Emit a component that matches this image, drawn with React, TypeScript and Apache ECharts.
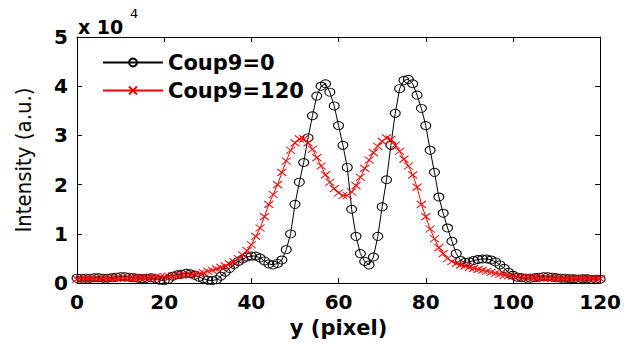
import React, { useEffect, useRef } from "react";
import * as echarts from "echarts";

const seriesNames = ["Coup9=0", "Coup9=120"];
const xTicks = [0, 20, 40, 60, 80, 100, 120];
const yTicks = [0, 10000, 20000, 30000, 40000, 50000];

// Intensity sampled at y = 0, 1, 2, ... 120 pixels
const coup0 = [
  1000, 1000, 1000, 1000, 1100, 1100, 1000, 1000, 1100, 1200,
  1300, 1300, 1200, 1100, 1000, 900, 1000, 1100, 900, 600,
  500, 800, 1400, 1700, 1800, 2000, 1900, 1600, 1200, 900,
  600, 500, 700, 1400, 2200, 3000, 3800, 4400, 4900, 5300,
  5500, 5500, 5100, 4500, 3900, 3700, 4000, 4700, 6800, 10000,
  16000, 20500, 24500, 29500, 34000, 38000, 40000, 40500, 38800, 36000,
  32000, 28000, 23500, 15000, 9500, 6000, 4400, 3700, 5300, 9500,
  15500, 21000, 28000, 34500, 39500, 41200, 41400, 40500, 38200, 35500,
  32000, 27000, 22500, 17500, 14200, 11200, 8500, 6000, 4600, 4200,
  4300, 4600, 4800, 4900, 4900, 4700, 4300, 3700, 3000, 2200,
  1600, 1200, 1100, 1000, 1000, 1100, 1200, 1300, 1300, 1200,
  1100, 1000, 1000, 900, 900, 800, 900, 900, 800, 800,
  800,
];

const coup120 = [
  800, 900, 900, 1000, 900, 900, 1000, 1000, 900, 1000,
  1000, 1000, 1000, 1000, 1100, 1100, 1100, 1100, 1200, 1200,
  1300, 1400, 1500, 1500, 1600, 1700, 1700, 1800, 1900, 2100,
  2400, 2600, 2900, 3200, 3500, 3900, 4300, 5000, 5700, 6600,
  7800, 9500, 11200, 13500, 16000, 18000, 20000, 22500, 24800, 27000,
  28500, 29300, 29300, 28500, 27200, 25500, 23800, 22000, 20500, 19200,
  18300, 17800, 17800, 18500, 19800, 21500, 23300, 25000, 26500, 27800,
  28800, 29500, 29200, 28000, 26800, 25200, 23800, 22000, 19500, 16000,
  13500, 11000, 9000, 7200, 6000, 5000, 4400, 4000, 3700, 3500,
  3200, 3000, 2800, 2600, 2400, 2200, 2000, 1800, 1600, 1500,
  1400, 1300, 1200, 1200, 1100, 1100, 1100, 1000, 1000, 1000,
  1000, 1000, 900, 900, 1000, 900, 900, 900, 900, 900,
  900,
];

const FONT = "'DejaVu Sans', 'Liberation Sans', Arial, sans-serif";

export default function App() {
  const ref = useRef<HTMLDivElement>(null);

  useEffect(() => {
    if (!ref.current) return;
    const chart = echarts.init(ref.current, null, { renderer: "svg" });
    const axisLine = { show: true, onZero: false, lineStyle: { color: "#000", width: 1 } };
    const tick = { show: true, inside: true, length: 5, lineStyle: { color: "#000", width: 1 } };
    const xMin = xTicks[0];
    const xMax = xTicks[xTicks.length - 1];
    const xInt = xTicks[1] - xTicks[0];
    const yMin = yTicks[0];
    const yMax = yTicks[yTicks.length - 1];
    const yInt = yTicks[1] - yTicks[0];
    chart.setOption({
      animation: false,
      backgroundColor: "#fff",
      grid: { left: 77, right: 22, top: 37, bottom: 55 },
      legend: {
        data: [
          { name: seriesNames[0] },
          { name: seriesNames[1] },
        ],
        orient: "vertical",
        left: 97,
        top: 47,
        itemWidth: 60,
        itemHeight: 10,
        itemGap: 7,
        textStyle: {
          fontFamily: FONT,
          fontSize: 21,
          fontWeight: "bold",
          color: "#000",
          lineHeight: 21,
        },
      },
      xAxis: [
        {
          type: "value",
          position: "bottom",
          min: xMin,
          max: xMax,
          interval: xInt,
          axisLine,
          axisTick: tick,
          splitLine: { show: false },
          axisLabel: {
            color: "#000",
            fontFamily: FONT,
            fontSize: 20,
            fontWeight: "bold",
            margin: 9,
          },
          name: "y (pixel)",
          nameLocation: "middle",
          nameGap: 28,
          nameTextStyle: {
            color: "#000",
            fontFamily: FONT,
            fontSize: 21,
            fontWeight: "bold",
          },
        },
        {
          type: "value",
          position: "top",
          min: xMin,
          max: xMax,
          interval: xInt,
          axisLine,
          axisTick: tick,
          splitLine: { show: false },
          axisLabel: { show: false },
        },
      ],
      yAxis: [
        {
          type: "value",
          position: "left",
          min: yMin,
          max: yMax,
          interval: yInt,
          axisLine,
          axisTick: tick,
          splitLine: { show: false },
          axisLabel: {
            color: "#000",
            fontFamily: FONT,
            fontSize: 20,
            fontWeight: "bold",
            margin: 9,
            formatter: (v: number) => String(v / 10000),
          },
          name: "Intensity (a.u.)",
          nameLocation: "middle",
          nameGap: 43,
          nameTextStyle: {
            color: "#000",
            fontFamily: "'DejaVu Sans Condensed', 'Liberation Sans Narrow', 'Liberation Sans', sans-serif",
            fontSize: 22,
          },
        },
        {
          type: "value",
          position: "right",
          min: yMin,
          max: yMax,
          interval: yInt,
          axisLine,
          axisTick: tick,
          splitLine: { show: false },
          axisLabel: { show: false },
        },
      ],
      graphic: [
        {
          type: "text",
          left: 78,
          top: 17,
          style: {
            text: "x 10",
            fill: "#000",
            font: "bold 19px " + FONT,
          },
        },
        {
          type: "text",
          left: 130,
          top: 7,
          style: {
            text: "4",
            fill: "#000",
            font: "13px " + FONT,
          },
        },
      ],
      series: [
        {
          name: seriesNames[0],
          type: "line",
          data: coup0.map((v, i) => [i, v]),
          symbol: "circle",
          symbolSize: [10, 8],
          showAllSymbol: true,
          lineStyle: { color: "#000", width: 1 },
          itemStyle: { color: "rgba(0,0,0,0)", borderColor: "#000", borderWidth: 1 },
          z: 2,
        },
        {
          name: seriesNames[1],
          type: "line",
          data: coup120.map((v, i) => [i, v]),
          symbol: "path://M0,0L10,10M10,0L0,10",
          symbolSize: [9, 7],
          showAllSymbol: true,
          lineStyle: { color: "#ff0000", width: 1 },
          itemStyle: { color: "rgba(255,0,0,0)", borderColor: "#ff0000", borderWidth: 1 },
          z: 3,
        },
      ],
    });
    return () => chart.dispose();
  }, []);

  return (
    <div
      ref={ref}
      style={{ position: "absolute", left: 0, top: 0, width: 624, height: 343, background: "#fff" }}
    />
  );
}
